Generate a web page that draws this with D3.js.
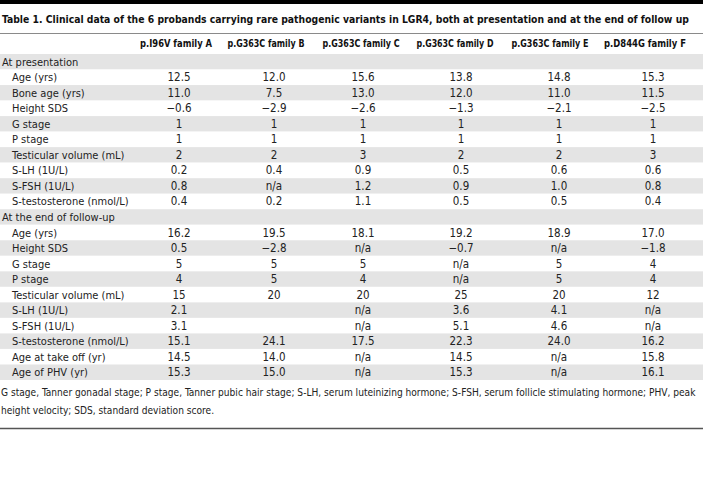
<!DOCTYPE html>
<html><head><meta charset="utf-8">
<script src="https://cdn.jsdelivr.net/npm/d3@7"></script>
<style>html,body{margin:0;padding:0;background:#fff;}svg{display:block;}</style>
</head><body><div id="chart"></div>
<script>
const title = "Table 1. Clinical data of the 6 probands carrying rare pathogenic variants in LGR4, both at presentation and at the end of follow up";
const families = ["p.I96V family A","p.G363C family B","p.G363C family C","p.G363C family D","p.G363C family E","p.D844G family F"];
const sections = ["At presentation","At the end of follow-up"];
const presentationLabels = ["Age (yrs)","Bone age (yrs)","Height SDS","G stage","P stage","Testicular volume (mL)","S-LH (1U/L)","S-FSH (1U/L)","S-testosterone (nmol/L)"];
const presentationValues = [
  ["12.5","12.0","15.6","13.8","14.8","15.3"],
  ["11.0","7.5","13.0","12.0","11.0","11.5"],
  ["\u22120.6","\u22122.9","\u22122.6","\u22121.3","\u22122.1","\u22122.5"],
  ["1","1","1","1","1","1"],
  ["1","1","1","1","1","1"],
  ["2","2","3","2","2","3"],
  ["0.2","0.4","0.9","0.5","0.6","0.6"],
  ["0.8","n/a","1.2","0.9","1.0","0.8"],
  ["0.4","0.2","1.1","0.5","0.5","0.4"]
];
const followupLabels = ["Age (yrs)","Height SDS","G stage","P stage","Testicular volume (mL)","S-LH (1U/L)","S-FSH (1U/L)","S-testosterone (nmol/L)","Age at take off (yr)","Age of PHV (yr)"];
const followupValues = [
  ["16.2","19.5","18.1","19.2","18.9","17.0"],
  ["0.5","\u22122.8","n/a","\u22120.7","n/a","\u22121.8"],
  ["5","5","5","n/a","5","4"],
  ["4","5","4","n/a","5","4"],
  ["15","20","20","25","20","12"],
  ["2.1","","n/a","3.6","4.1","n/a"],
  ["3.1","","n/a","5.1","4.6","n/a"],
  ["15.1","24.1","17.5","22.3","24.0","16.2"],
  ["14.5","14.0","n/a","14.5","n/a","15.8"],
  ["15.3","15.0","n/a","15.3","n/a","16.1"]
];
const footnote = [
  "G stage, Tanner gonadal stage; P stage, Tanner pubic hair stage; S-LH, serum luteinizing hormone; S-FSH, serum follicle stimulating hormone; PHV, peak",
  "height velocity; SDS, standard deviation score."
];

const W = 703, H = 488;
const FONT = "'DejaVu Sans Condensed','Liberation Sans Narrow',sans-serif";
const svg = d3.select("#chart").append("svg").attr("width", W).attr("height", H)
  .style("font-family", FONT);

// shrink font size until the text fits the given width
function fit(sel, maxW, size) {
  sel.attr("font-size", size);
  let s = size;
  while (sel.node().getComputedTextLength() > maxW && s > 6) {
    s -= 0.1;
    sel.attr("font-size", s);
  }
  return s;
}

const rows = [];
rows.push({label: sections[0], section: true, values: []});
presentationLabels.forEach((l, i) => rows.push({label: l, section: false, values: presentationValues[i]}));
rows.push({label: sections[1], section: true, values: []});
followupLabels.forEach((l, i) => rows.push({label: l, section: false, values: followupValues[i]}));

const y = d3.scaleBand().domain(d3.range(rows.length)).range([54, 380]).padding(0);
const xHead = d3.scaleOrdinal().domain(families).range([176, 266, 361, 455, 550, 645]);
const headW = d3.scaleOrdinal().domain(families).range([72, 77, 77, 77, 77, 82]);
const xVal = d3.scaleOrdinal().domain(d3.range(6)).range([179, 274, 363, 461, 559, 653]);

svg.append("rect").attr("x", 0).attr("y", 0).attr("width", W).attr("height", 4).attr("fill", "#000");
const t = svg.append("text").attr("x", 2).attr("y", 23).attr("font-weight", "bold")
  .attr("fill", "#111").text(title);
fit(t, 690, 12.5);
svg.append("line").attr("x1", 0).attr("x2", W).attr("y1", 33.5).attr("y2", 33.5)
  .attr("stroke", "#8a8a8a").attr("stroke-width", 1);

svg.selectAll("text.head").data(families).join("text").attr("class", "head")
  .attr("x", d => xHead(d) - headW(d) / 2).attr("y", 47)
  .attr("textLength", d => headW(d)).attr("lengthAdjust", "spacingAndGlyphs")
  .attr("font-size", 11).attr("font-weight", "bold").attr("fill", "#111").text(d => d);

svg.selectAll("rect.row").data(rows).join("rect").attr("class", "row")
  .attr("x", 0).attr("width", W).attr("y", (d, i) => y(i)).attr("height", y.bandwidth())
  .attr("fill", (d, i) => i % 2 === 0 ? "#e4e4e4" : "#fff");

const g = svg.selectAll("g.r").data(rows).join("g").attr("class", "r")
  .attr("transform", (d, i) => `translate(0,${y(i) + y.bandwidth() / 2 + 4})`);
g.append("text").attr("x", d => d.section ? 2 : 12).attr("font-size", 11).attr("fill", "#222")
  .text(d => d.label);
g.selectAll("text.v").data(d => d.values).join("text").attr("class", "v")
  .attr("x", (d, i) => xVal(i)).attr("text-anchor", "middle").attr("font-size", 11.5)
  .attr("fill", "#222").text(d => d);

const fn = svg.selectAll("text.fn").data(footnote).join("text").attr("class", "fn")
  .attr("x", 1).attr("y", (d, i) => 396 + i * 18)
  .attr("fill", "#222").text(d => d);
const fs = fit(d3.select(fn.nodes()[0]), 695, 10.6);
d3.select(fn.nodes()[1]).attr("font-size", fs);

svg.append("line").attr("x1", 0).attr("x2", W).attr("y1", 428.5).attr("y2", 428.5)
  .attr("stroke", "#555").attr("stroke-width", 1.5);
</script></body></html>
